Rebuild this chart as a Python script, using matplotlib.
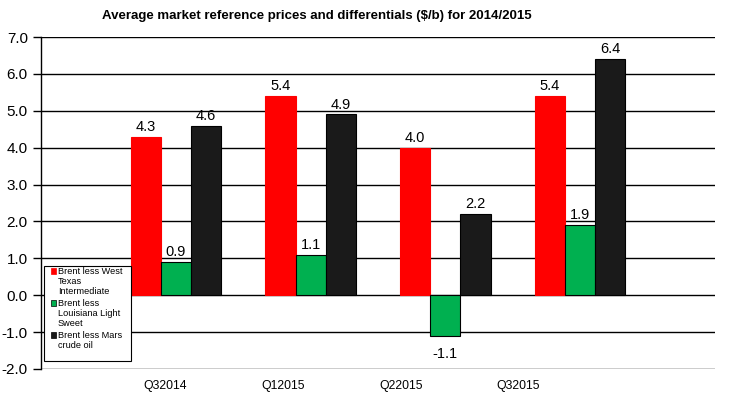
import matplotlib
matplotlib.use("Agg")
import matplotlib.pyplot as plt
import matplotlib.patches as mpatches
import numpy as np

plt.rcParams['font.family'] = ['Liberation Sans', 'DejaVu Sans']

categories = ["Q32014", "Q12015", "Q22015", "Q32015"]
series_names = [["Brent less West", "Texas", "Intermediate"],
                ["Brent less", "Louisiana Light", "Sweet"],
                ["Brent less Mars", "crude oil"]]
wti = [4.3, 5.4, 4.0, 5.4]
lls = [0.9, 1.1, -1.1, 1.9]
mars = [4.6, 4.9, 2.2, 6.4]
colors = ["#FF0000", "#00B050", "#1A1A1A"]
yticks = [-2.0, -1.0, 0.0, 1.0, 2.0, 3.0, 4.0, 5.0, 6.0, 7.0]

W, H = 747, 407
fig = plt.figure(figsize=(W/100, H/100), dpi=100)
ax = fig.add_axes([41/W, 1-369/H, (715-41)/W, (369-37)/H])

x = np.arange(len(categories))
w = 0.224
for i, (vals, c) in enumerate(zip([wti, lls, mars], colors)):
    pos = x + (i - 1) * w
    ec = 'black' if i > 0 else c
    ax.bar(pos, vals, width=w, color=c, edgecolor=ec, linewidth=0.8, zorder=3)
    for p, v in zip(pos, vals):
        if v >= 0:
            ax.text(p, v + 0.08, f"{v:.1f}", ha='center', va='bottom', fontsize=10.5, zorder=2)
        else:
            ax.text(p, v - 0.3, f"{v:.1f}", ha='center', va='top', fontsize=10.5, zorder=2)

ax.set_xlim(-1.0, 4.0)
ax.set_ylim(-2.0, 7.0)
ax.set_yticks(yticks)
ax.set_yticklabels([f"{t:.1f}" for t in yticks], fontsize=11)
# category labels sit slightly left of the bar groups, as in the original
ax.set_xticks(x * 0.874 - 0.08)
ax.set_xticklabels(categories, fontsize=8.8)
ax.tick_params(axis='x', length=0, pad=8)
ax.tick_params(axis='y', length=6, direction='out', width=1)
ax.yaxis.grid(True, color='black', linewidth=1, zorder=0)
ax.set_axisbelow(True)
for s in ['top', 'right', 'bottom']:
    ax.spines[s].set_visible(False)
ax.spines['left'].set_linewidth(1)

# manual legend (markers aligned to first line of each entry)
def fx(px):
    return px / W

def fy(py):
    return 1 - py / H

box = mpatches.Rectangle((fx(44), fy(361)), fx(131) - fx(44), fy(266) - fy(361),
                         transform=fig.transFigure, facecolor='white', edgecolor='black',
                         linewidth=0.8, zorder=10)
fig.add_artist(box)
line_y = [[271, 281.5, 292], [303, 313.5, 323.5], [335, 345.5]]
for c, lines, ys in zip(colors, series_names, line_y):
    ec = 'black' if c != colors[0] else c
    sq = mpatches.Rectangle((fx(51), fy(ys[0] + 3)), fx(56) - fx(51), fy(ys[0] - 3) - fy(ys[0] + 3),
                            transform=fig.transFigure, facecolor=c, edgecolor=ec,
                            linewidth=0.5, zorder=11)
    fig.add_artist(sq)
    for t, yy in zip(lines, ys):
        fig.text(fx(58), fy(yy), t, ha='left', va='center', fontsize=6.6, zorder=11)

fig.text(317/W, 1-16/H, "Average market reference prices and differentials ($/b) for 2014/2015",
         ha='center', va='center', fontsize=9.5, fontweight='bold')

fig.savefig("out.png", dpi=100, facecolor='white')
